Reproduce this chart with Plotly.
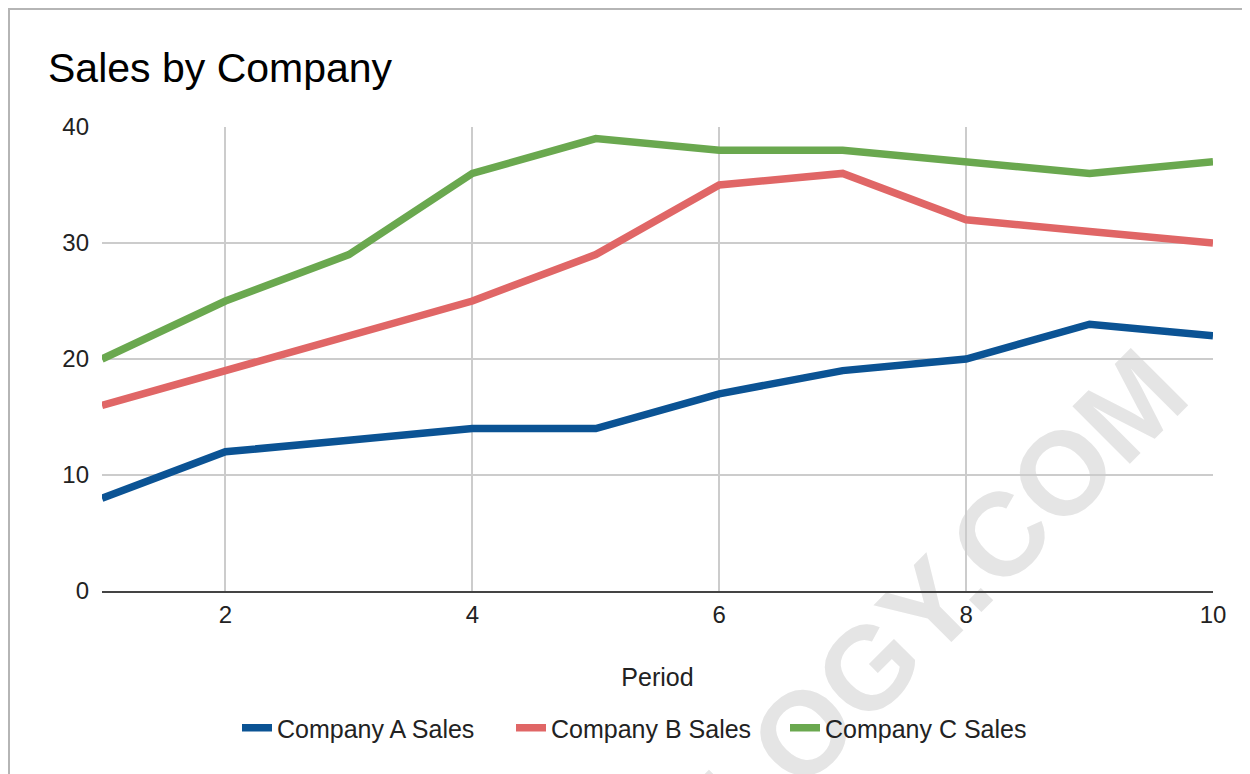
import plotly.graph_objects as go

periods = [1, 2, 3, 4, 5, 6, 7, 8, 9, 10]
company_a = [8, 12, 13, 14, 14, 17, 19, 20, 23, 22]
company_b = [16, 19, 22, 25, 29, 35, 36, 32, 31, 30]
company_c = [20, 25, 29, 36, 39, 38, 38, 37, 36, 37]
series_names = ["Company A Sales", "Company B Sales", "Company C Sales"]
series_colors = ["#0b5394", "#e06666", "#6aa84f"]
x_ticks = [2, 4, 6, 8, 10]
y_ticks = [0, 10, 20, 30, 40]

# the page body adds an 8px offset; figure coordinates below are page - 8
OFF = 8
W, H = 1242, 766
ML, MR, MT, MB = 94, 37, 119, 183
PW, PH = W - ML - MR, H - MT - MB


def px(page_x):
    return (page_x - OFF - ML) / PW


def py(page_y):
    return (H - MB - (page_y - OFF)) / PH


FONT = "Liberation Sans, Arial, sans-serif"

fig = go.Figure()
for name, vals, col in zip(series_names, [company_a, company_b, company_c], series_colors):
    fig.add_trace(go.Scatter(x=periods, y=vals, name=name, mode="lines",
                             line=dict(color=col, width=7.5), cliponaxis=False))

shapes = []
# watermark (behind everything)
cx, cy = px(800), py(720)
shapes.append(dict(type="rect", xref="paper", yref="paper", x0=cx - 0.001, x1=cx + 0.001,
                   y0=cy - 0.001, y1=cy + 0.001, line=dict(width=0), fillcolor="rgba(0,0,0,0)",
                   layer="below",
                   label=dict(text="STATOLOGY.COM", textangle=-45, textposition="middle center",
                              font=dict(family="Liberation Sans, Arial", size=118, color="#e5e5e5",
                                        weight="bold"))))
# chart frame border (left and top edges)
shapes.append(dict(type="line", xref="paper", yref="paper", x0=px(9), x1=px(9), y0=py(8), y1=py(800),
                   line=dict(color="#b5b5b5", width=2), layer="above"))
shapes.append(dict(type="line", xref="paper", yref="paper", x0=px(8), x1=px(1300), y0=py(9), y1=py(9),
                   line=dict(color="#b5b5b5", width=2), layer="above"))

fig.update_layout(
    width=W, height=H,
    margin=dict(l=ML, r=MR, t=MT, b=MB, autoexpand=False),
    paper_bgcolor="white", plot_bgcolor="rgba(0,0,0,0)",
    font=dict(family=FONT, color="#222222", size=25),
    title=dict(text="Sales by Company", font=dict(family=FONT, size=41, color="#000000"),
               x=40 / W, xref="container", xanchor="left",
               y=1 - 60 / H, yref="container", yanchor="middle"),
    xaxis=dict(range=[1, 10], tickvals=x_ticks, showgrid=True, gridcolor="#cccccc", gridwidth=1.5,
               zeroline=False, showline=True, linecolor="#444444", linewidth=2,
               ticks="", ticklabelstandoff=1, tickfont=dict(size=24, color="#222222"),
               title=dict(text="Period", font=dict(size=25, color="#222222"), standoff=42)),
    yaxis=dict(range=[0, 40], tickvals=y_ticks, showgrid=True, gridcolor="#cccccc", gridwidth=1.5,
               zeroline=False, showline=False, ticks="", ticklabelstandoff=12,
               tickfont=dict(size=24, color="#222222")),
    legend=dict(orientation="h", xref="container", yref="container",
                x=229 / W, xanchor="left", y=1 - 720 / H, yanchor="middle",
                entrywidth=229, entrywidthmode="pixels", itemwidth=30,
                font=dict(size=25, color="#222222"), bgcolor="rgba(0,0,0,0)"),
    shapes=shapes,
    showlegend=True,
)

fig.write_html("out.html")
